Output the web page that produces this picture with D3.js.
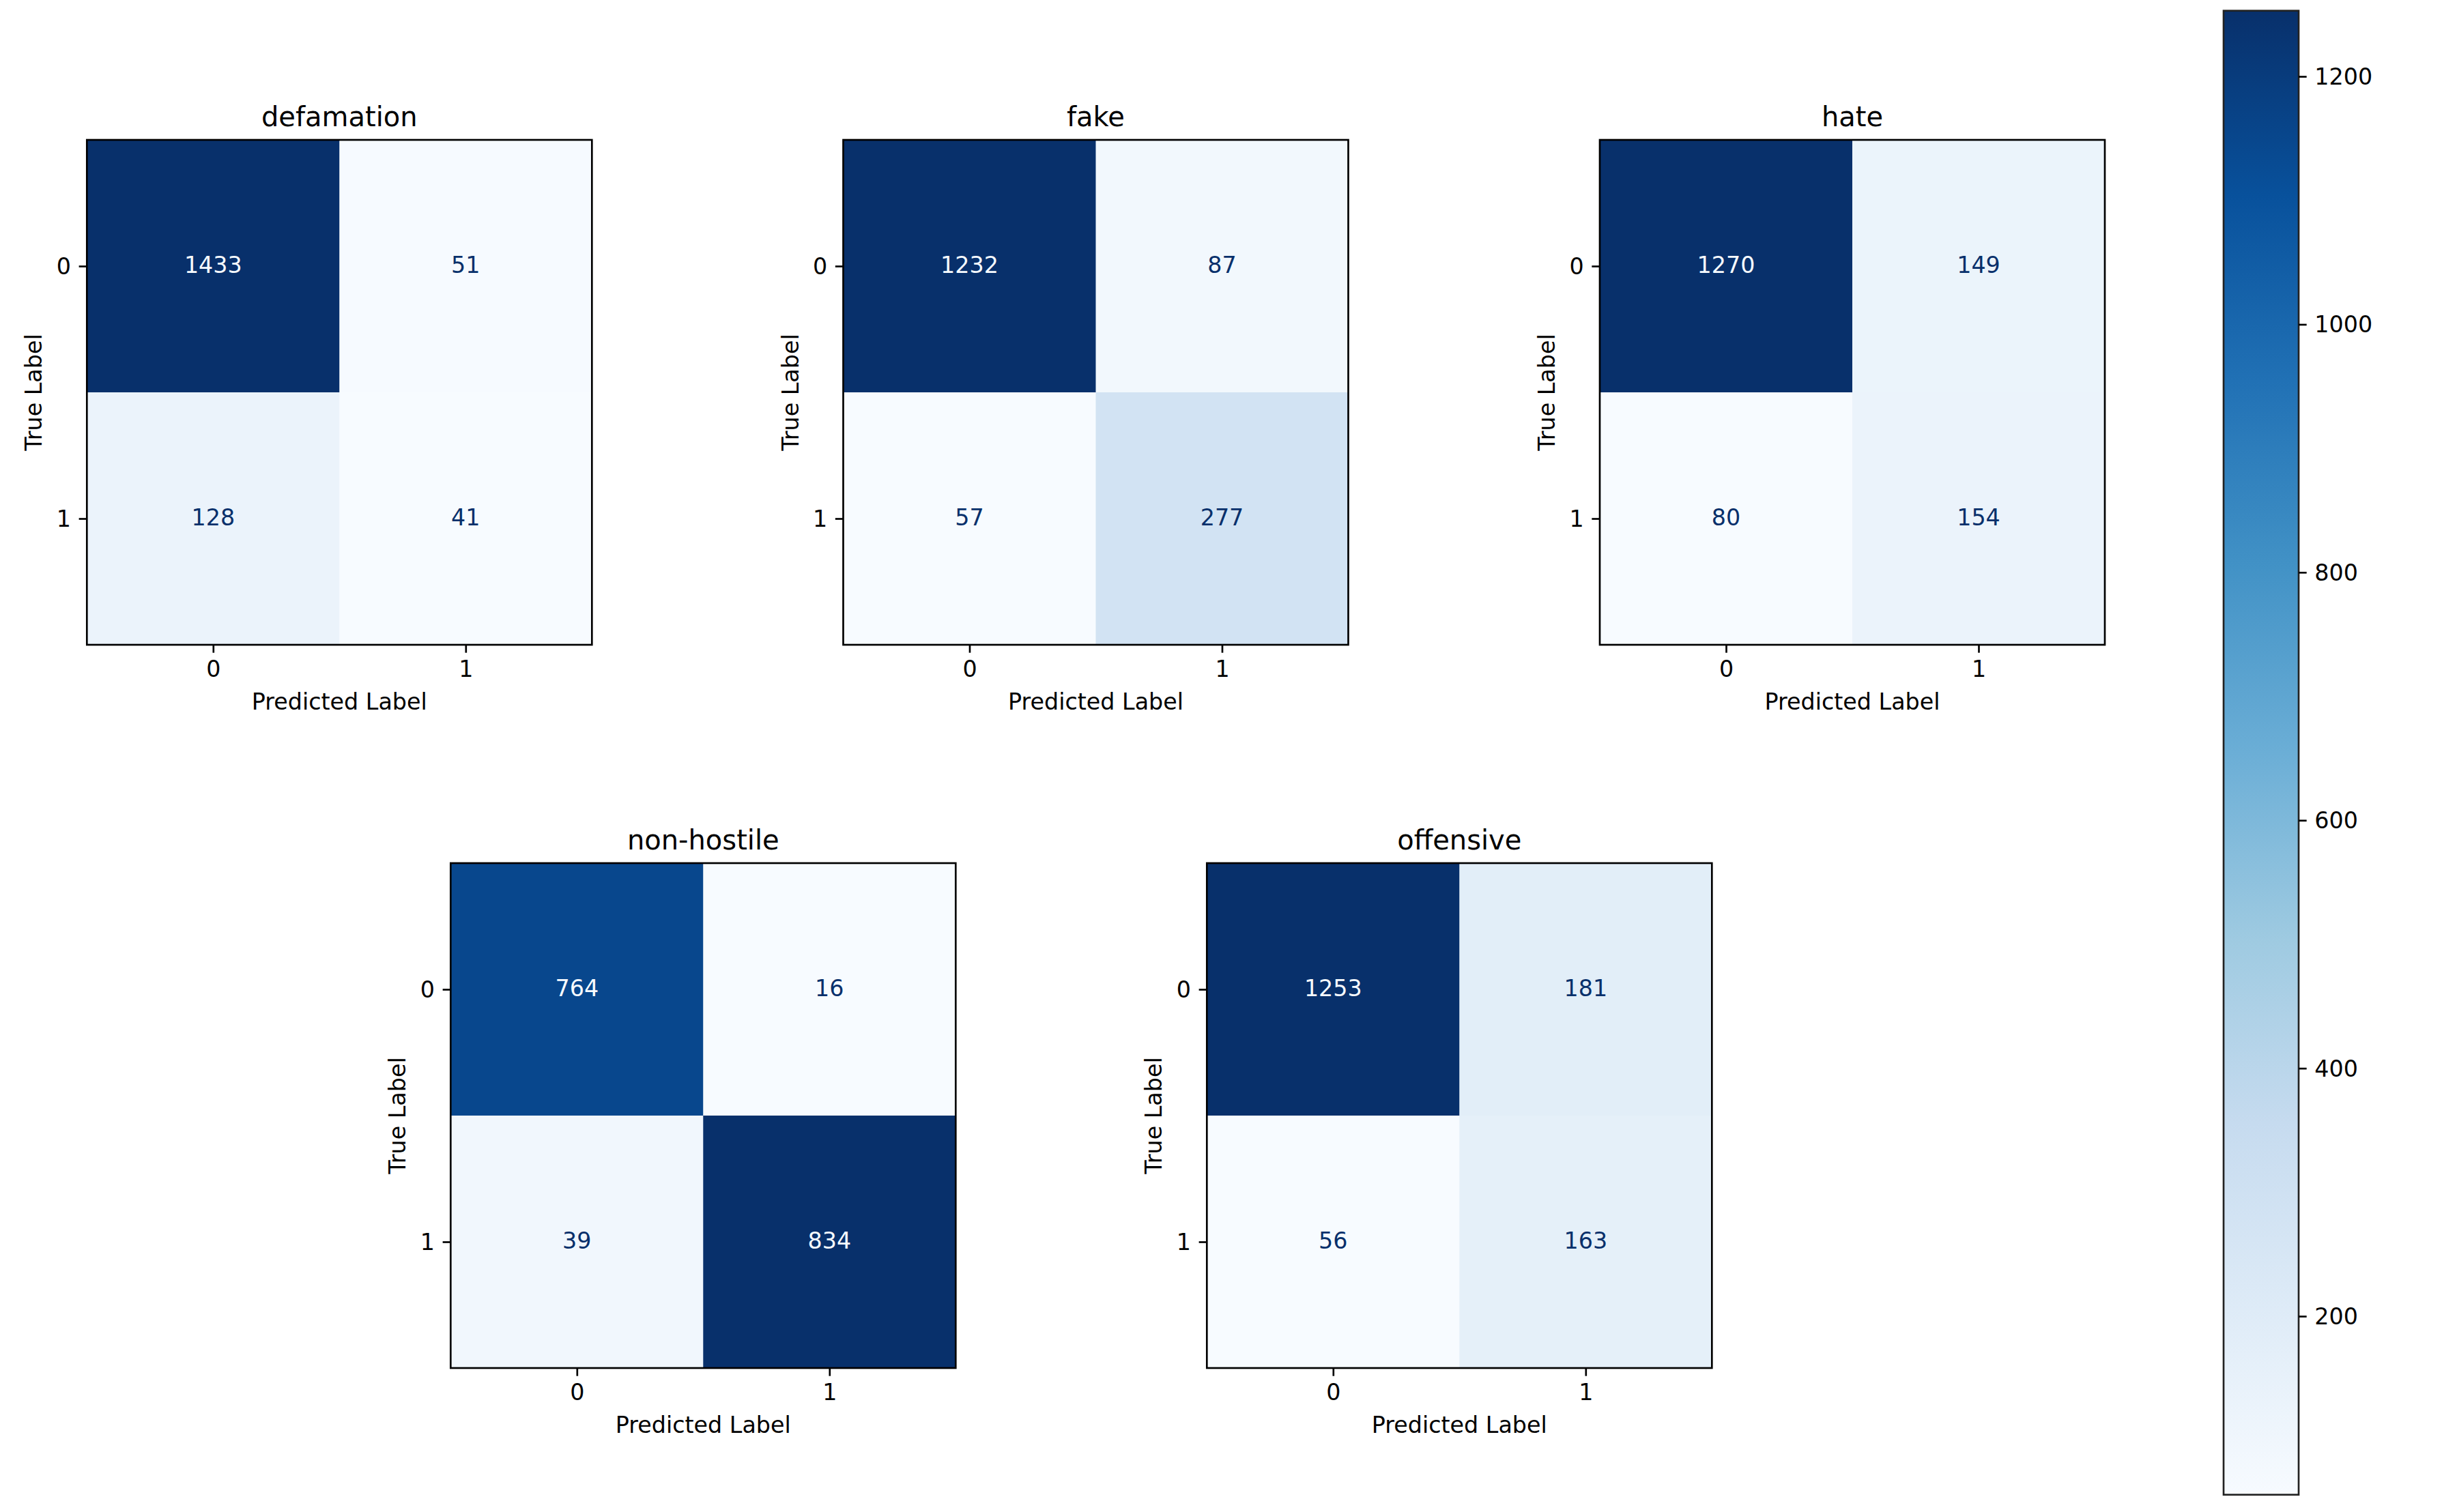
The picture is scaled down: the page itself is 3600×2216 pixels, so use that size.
<!DOCTYPE html>
<html>
<head>
<meta charset="utf-8">
<script src="https://cdn.jsdelivr.net/npm/d3@7"></script>
<style>
  body { margin: 0; background: #fff; }
  text { font-family: "DejaVu Sans", sans-serif; }
</style>
</head>
<body>
<svg id="chart" width="3600" height="2216"></svg>
<script>
"use strict"

// data
const titles = ["defamation", "fake", "hate", "non-hostile", "offensive"]
const matrices = [
    [[1433, 51], [128, 41]],
    [[1232, 87], [57, 277]],
    [[1270, 149], [80, 154]],
    [[764, 16], [39, 834]],
    [[1253, 181], [56, 163]]
]
const classLabels = [0, 1]
const colorbarTicks = [200, 400, 600, 800, 1000, 1200]

// layout (pixels) for the five panels
const panelPos = [
    { x: 127.3, y: 205 },
    { x: 1235.5, y: 205 },
    { x: 2344, y: 205 },
    { x: 660.3, y: 1265 },
    { x: 1768.3, y: 1265 }
]
const side = 740
const fs = 33.33       // 10pt @ 240 dpi
const fsTitle = 40     // 12pt
const tickLen = 11.67
const tickPad = 11.67
const lw = 2.67

const blues = d3.schemeBlues[9]
const cmapMin = blues[0]
const cmapMax = blues[8]

function blueScale(min, max) {
    // piecewise linear like matplotlib's Blues
    return d3.scaleLinear()
        .domain(d3.range(9).map(i => min + (max - min) * i / 8))
        .range(blues)
        .clamp(true)
}

const svg = d3.select("#chart")

function styleAxis(gAxis, dy) {
    gAxis.select(".domain").remove()
    gAxis.selectAll("line").style("stroke", "#000").style("stroke-width", lw)
    gAxis.selectAll("text")
        .attr("dy", null)
        .style("font-size", fs + "px")
        .style("font-family", "DejaVu Sans")
        .style("fill", "#000")
}

function drawPanel(k) {
    const m = matrices[k]
    const pos = panelPos[k]
    const flat = m.flat()
    const [vmin, vmax] = d3.extent(flat)
    const color = blueScale(vmin, vmax)
    const thresh = (vmin + vmax) / 2

    const scX = d3.scaleLinear().domain([-0.5, 1.5]).range([pos.x, pos.x + side])
    const scY = d3.scaleLinear().domain([-0.5, 1.5]).range([pos.y, pos.y + side])

    const cells = []
    m.forEach((row, i) => row.forEach((v, j) => cells.push({ i, j, v })))

    const g = svg.append("g")

    g.selectAll("rect.cell")
        .data(cells)
        .enter()
        .append("rect")
        .attr("class", "cell")
        .attr("x", d => scX(d.j - 0.5))
        .attr("y", d => scY(d.i - 0.5))
        .attr("width", scX(1) - scX(0) + 0.5)
        .attr("height", scY(1) - scY(0) + 0.5)
        .style("fill", d => color(d.v))

    g.selectAll("text.val")
        .data(cells)
        .enter()
        .append("text")
        .attr("class", "val")
        .attr("x", d => scX(d.j))
        .attr("y", d => scY(d.i) + 10)
        .attr("text-anchor", "middle")
        .style("font-size", fs + "px")
        .style("fill", d => d.v < thresh ? cmapMax : cmapMin)
        .text(d => d.v)

    // frame
    g.append("rect")
        .attr("x", pos.x)
        .attr("y", pos.y)
        .attr("width", side)
        .attr("height", side)
        .style("fill", "none")
        .style("stroke", "#000")
        .style("stroke-width", lw)

    // x axis
    const axX = d3.axisBottom(scX)
        .tickValues(classLabels)
        .tickFormat(d3.format("d"))
        .tickSize(tickLen)
        .tickPadding(tickPad)
    const gx = g.append("g")
        .attr("transform", `translate(0, ${pos.y + side})`)
        .call(axX)
    styleAxis(gx)
    gx.selectAll("text").attr("y", tickLen + tickPad + 24)

    // y axis
    const axY = d3.axisLeft(scY)
        .tickValues(classLabels)
        .tickFormat(d3.format("d"))
        .tickSize(tickLen)
        .tickPadding(tickPad)
    const gy = g.append("g")
        .attr("transform", `translate(${pos.x}, 0)`)
        .call(axY)
    styleAxis(gy)
    gy.selectAll("text").attr("y", 11)

    // labels
    g.append("text")
        .attr("x", pos.x + side / 2)
        .attr("y", pos.y + side + 95)
        .attr("text-anchor", "middle")
        .style("font-size", fs + "px")
        .text("Predicted Label")

    g.append("text")
        .attr("transform", `translate(${pos.x - 66}, ${pos.y + side / 2}) rotate(-90)`)
        .attr("text-anchor", "middle")
        .style("font-size", fs + "px")
        .text("True Label")

    g.append("text")
        .attr("x", pos.x + side / 2)
        .attr("y", pos.y - 20)
        .attr("text-anchor", "middle")
        .style("font-size", fsTitle + "px")
        .text(titles[k])
}

titles.forEach((t, k) => drawPanel(k))

// colorbar follows the last image drawn (offensive)
function drawColorbar() {
    const cb = { x: 3258, y: 15.7, w: 110, h: 2175 }
    const [vmin, vmax] = d3.extent(matrices[matrices.length - 1].flat())
    const color = blueScale(vmin, vmax)
    const scC = d3.scaleLinear().domain([vmin, vmax]).range([cb.y + cb.h, cb.y])

    const grad = svg.append("defs").append("linearGradient")
        .attr("id", "cbgrad")
        .attr("x1", 0).attr("y1", 1).attr("x2", 0).attr("y2", 0)
    grad.selectAll("stop")
        .data(d3.range(0, 1.0001, 0.125))
        .enter()
        .append("stop")
        .attr("offset", d => d)
        .attr("stop-color", d => color(vmin + d * (vmax - vmin)))

    svg.append("rect")
        .attr("x", cb.x)
        .attr("y", cb.y)
        .attr("width", cb.w)
        .attr("height", cb.h)
        .style("fill", "url(#cbgrad)")
        .style("stroke", "#222")
        .style("stroke-width", lw)

    const axC = d3.axisRight(scC)
        .tickValues(colorbarTicks)
        .tickFormat(d3.format("d"))
        .tickSize(tickLen)
        .tickPadding(tickPad)
    const gc = svg.append("g")
        .attr("transform", `translate(${cb.x + cb.w}, 0)`)
        .call(axC)
    styleAxis(gc)
    gc.selectAll("text").attr("y", 11.5)
}

drawColorbar()
</script>
</body>
</html>
